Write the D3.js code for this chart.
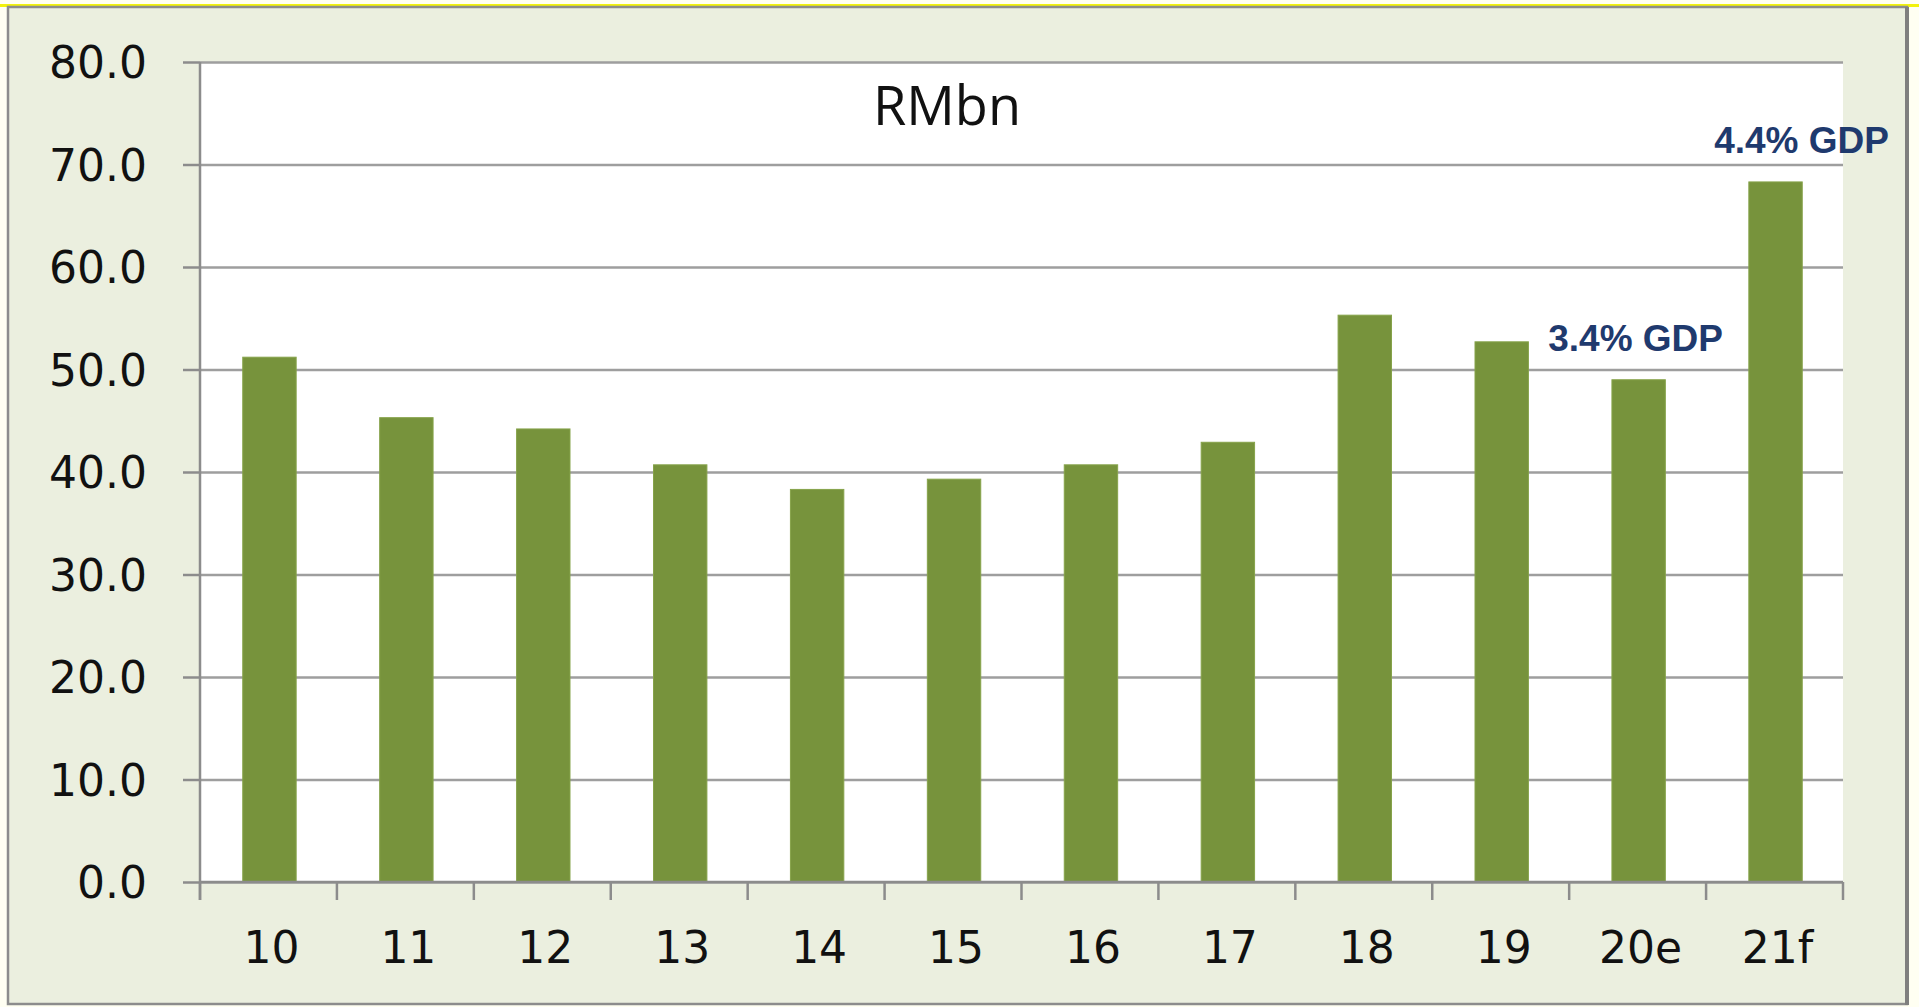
<!DOCTYPE html>
<html>
<head>
<meta charset="utf-8">
<script src="https://cdn.jsdelivr.net/npm/d3@7"></script>
<style>
  html, body { margin: 0; padding: 0; background: #fffff2; overflow: hidden; }
  svg { display: block; }
</style>
</head>
<body>
<svg width="1919" height="1007"></svg>
<script>
// data
const years = ['10', '11', '12', '13', '14', '15', '16', '17', '18', '19', '20e', '21f'];
const values = [51.2, 45.3, 44.2, 40.7, 38.3, 39.3, 40.7, 42.9, 55.3, 52.7, 49.0, 68.3];
const yTicks = [0, 10, 20, 30, 40, 50, 60, 70, 80];
const noteYears = ['20e', '21f'];
const noteText = ['3.4% GDP', '4.4% GDP'];
const unitLabel = 'RMbn';

const svg = d3.select('svg');

// yellow strip at top, then the chart frame
svg.append('rect')
    .attr('x', 0).attr('y', 4).attr('width', 1919).attr('height', 3)
    .attr('fill', '#f2f20c');

svg.append('rect')
    .attr('x', 8).attr('y', 7).attr('width', 1899).attr('height', 997)
    .attr('fill', '#ebefdf')
    .attr('stroke', '#8c8c8c')
    .attr('stroke-width', 2.5);
svg.append('line')
    .attr('x1', 1907).attr('x2', 1907).attr('y1', 7).attr('y2', 1005)
    .attr('stroke', '#7f7f7f').attr('stroke-width', 4);

const plotL = 200, plotR = 1843, plotT = 62, plotB = 882;

const x = d3.scaleBand()
    .domain(years)
    .range([plotL, plotR])
    .padding(0);

const y = d3.scaleLinear()
    .domain([0, 80])
    .range([plotB, plotT]);

// white plot area
svg.append('rect')
    .attr('x', plotL).attr('y', plotT)
    .attr('width', plotR - plotL).attr('height', plotB - plotT)
    .attr('fill', '#ffffff');

// gridlines
svg.append('g')
    .attr('transform', `translate(${plotL},0)`)
    .call(d3.axisLeft(y).tickValues(yTicks).tickSize(-(plotR - plotL)).tickFormat(''))
    .call(g => g.select('.domain').remove())
    .call(g => g.selectAll('line').attr('stroke', '#9e9e9e').attr('stroke-width', 2.4));

// bars
const barW = x.bandwidth() * 0.39;
svg.append('g')
    .selectAll('rect')
    .data(values)
    .enter()
    .append('rect')
    .attr('x', (d, i) => x(years[i]) + x.bandwidth() / 2 - barW / 2 + 1)
    .attr('y', d => y(d))
    .attr('width', barW)
    .attr('height', d => y(0) - y(d))
    .attr('fill', '#77933c')
    .attr('stroke', '#86a34a')
    .attr('stroke-width', 1);

// y axis
const yAxis = svg.append('g')
    .attr('transform', `translate(${plotL},0)`)
    .call(d3.axisLeft(y).tickValues(yTicks).tickSize(17).tickPadding(36).tickFormat(d3.format('.1f')));
yAxis.select('.domain')
    .attr('d', `M0,${plotT}V${plotB + 18}`)
    .attr('stroke', '#8c8c8c').attr('stroke-width', 2.5);
yAxis.selectAll('line').attr('stroke', '#8c8c8c').attr('stroke-width', 2.5);
yAxis.selectAll('text')
    .attr('fill', '#111')
    .style('font-family', '"DejaVu Sans", Verdana, sans-serif')
    .style('font-size', '44px')
    .attr('dy', '0.36em');

// x axis: ticks on the category edges
const edges = years.map(d => x(d)).concat([plotR]);
const xAxis = svg.append('g');
xAxis.append('line')
    .attr('x1', plotL).attr('x2', plotR).attr('y1', plotB).attr('y2', plotB)
    .attr('stroke', '#8c8c8c').attr('stroke-width', 2.5);
xAxis.selectAll('.edge')
    .data(edges)
    .enter()
    .append('line')
    .attr('x1', d => d).attr('x2', d => d)
    .attr('y1', plotB).attr('y2', plotB + 18)
    .attr('stroke', '#8c8c8c').attr('stroke-width', 2.5);
xAxis.selectAll('text')
    .data(years)
    .enter()
    .append('text')
    .attr('x', d => x(d) + x.bandwidth() / 2 + 3)
    .attr('y', 963)
    .attr('text-anchor', 'middle')
    .attr('fill', '#111')
    .style('font-family', '"DejaVu Sans", Verdana, sans-serif')
    .style('font-size', '44px')
    .text(d => d);

// unit label
svg.append('text')
    .attr('x', 947)
    .attr('y', 125)
    .attr('text-anchor', 'middle')
    .attr('fill', '#111')
    .style('font-family', '"Open Sans", sans-serif')
    .style('font-size', '54px')
    .text(unitLabel);

// GDP notes above the last bars
const noteShift = [-2, 27];
svg.append('g')
    .selectAll('text')
    .data(noteText)
    .enter()
    .append('text')
    .attr('x', (d, i) => x(noteYears[i]) + x.bandwidth() / 2 + noteShift[i])
    .attr('y', (d, i) => y(values[years.indexOf(noteYears[i])]) - 29)
    .attr('text-anchor', 'middle')
    .attr('fill', '#1f3a6e')
    .style('font-family', '"Liberation Sans", Arial, sans-serif')
    .style('font-weight', 'bold')
    .style('font-size', '37px')
    .text(d => d);
</script>
</body>
</html>
